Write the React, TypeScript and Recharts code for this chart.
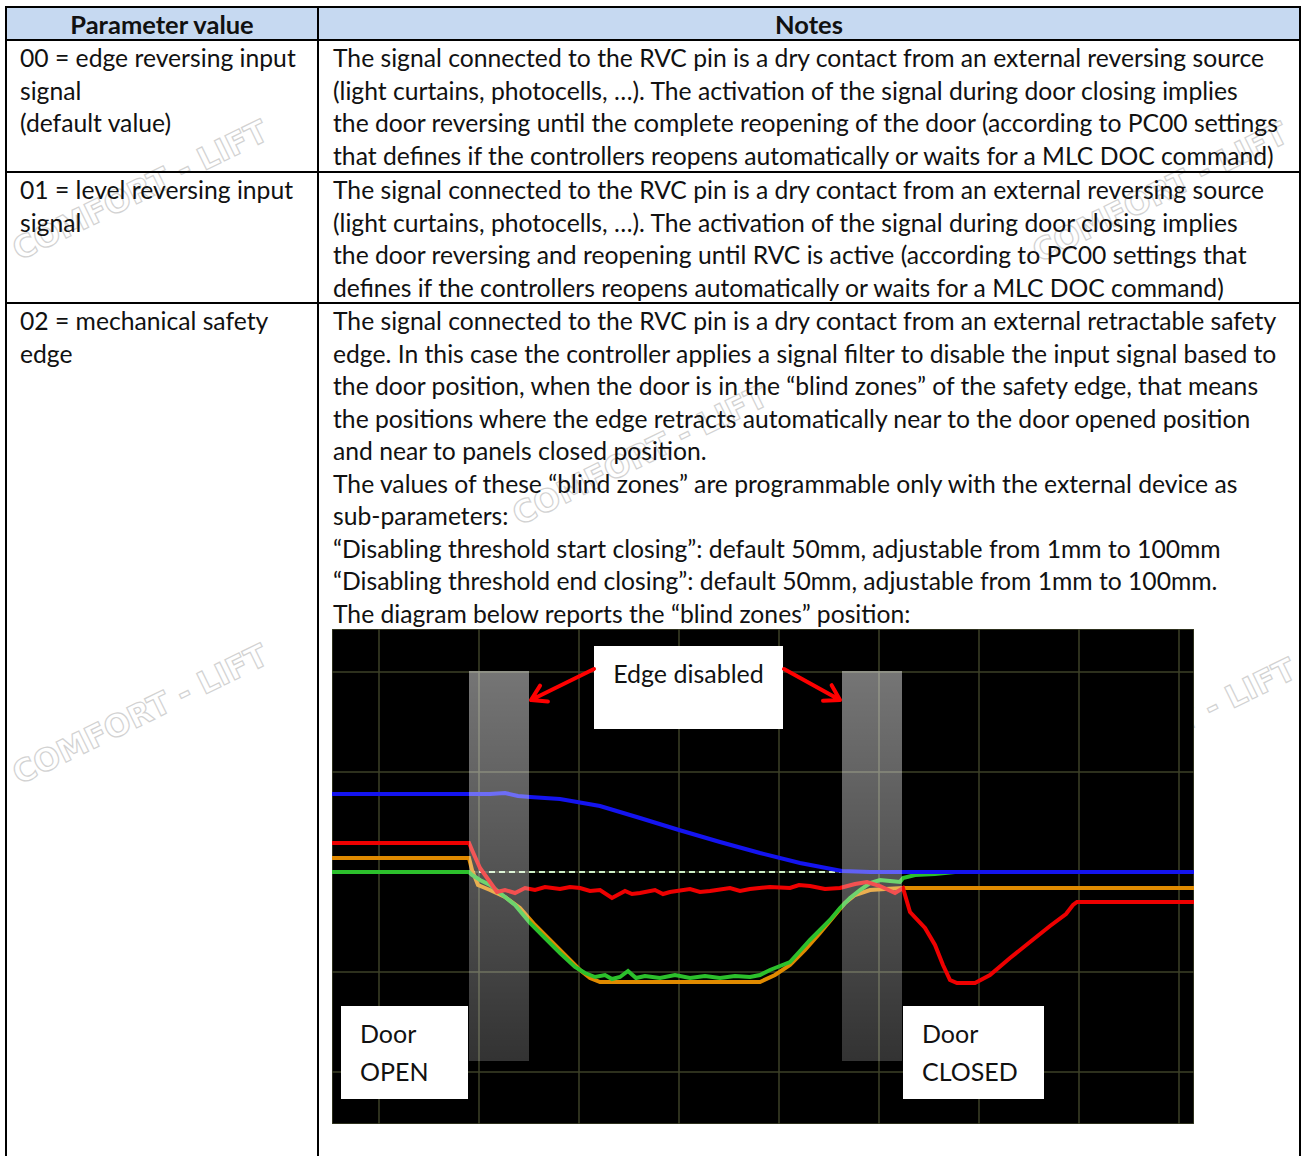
import React from 'react';
import { ComposedChart, Line, XAxis, YAxis, CartesianGrid, ReferenceArea, ReferenceLine } from 'recharts';

// time axis in grid divisions, signal axis in grid divisions (0 = reference level)
const gridX = [0, 1, 2, 3, 4, 5, 6, 7, 8];
const gridY = [-2, -1, 0, 1, 2];

const positionTrace = [
  { x: -0.47, y: 0.78 }, { x: 0.9, y: 0.78 }, { x: 1.11, y: 0.78 }, { x: 1.26, y: 0.79 },
  { x: 1.39, y: 0.76 }, { x: 1.51, y: 0.75 }, { x: 1.81, y: 0.73 }, { x: 2.21, y: 0.66 },
  { x: 2.61, y: 0.54 }, { x: 3.0, y: 0.42 }, { x: 3.41, y: 0.3 }, { x: 3.81, y: 0.19 },
  { x: 4.21, y: 0.09 }, { x: 4.63, y: 0.01 }, { x: 4.91, y: 0.0 }, { x: 8.15, y: 0.0 },
];

const currentTrace = [
  { x: -0.47, y: 0.29 }, { x: 0.9, y: 0.29 }, { x: 0.93, y: 0.22 }, { x: 1.01, y: 0.04 },
  { x: 1.11, y: -0.1 }, { x: 1.18, y: -0.2 }, { x: 1.26, y: -0.18 }, { x: 1.36, y: -0.21 },
  { x: 1.46, y: -0.16 }, { x: 1.56, y: -0.18 }, { x: 1.66, y: -0.15 }, { x: 1.81, y: -0.17 },
  { x: 1.91, y: -0.15 }, { x: 2.01, y: -0.16 }, { x: 2.11, y: -0.19 }, { x: 2.21, y: -0.18 },
  { x: 2.33, y: -0.26 }, { x: 2.46, y: -0.19 }, { x: 2.53, y: -0.22 }, { x: 2.61, y: -0.21 },
  { x: 2.76, y: -0.18 }, { x: 2.84, y: -0.22 }, { x: 2.91, y: -0.2 }, { x: 3.11, y: -0.17 },
  { x: 3.21, y: -0.2 }, { x: 3.31, y: -0.19 }, { x: 3.51, y: -0.16 }, { x: 3.61, y: -0.19 },
  { x: 3.71, y: -0.17 }, { x: 3.91, y: -0.15 }, { x: 4.11, y: -0.16 }, { x: 4.2, y: -0.13 },
  { x: 4.31, y: -0.14 }, { x: 4.46, y: -0.17 }, { x: 4.61, y: -0.16 }, { x: 4.76, y: -0.12 },
  { x: 4.88, y: -0.1 }, { x: 5.01, y: -0.14 }, { x: 5.16, y: -0.21 }, { x: 5.24, y: -0.16 },
  { x: 5.31, y: -0.4 }, { x: 5.46, y: -0.56 }, { x: 5.56, y: -0.73 }, { x: 5.64, y: -0.93 },
  { x: 5.71, y: -1.08 }, { x: 5.78, y: -1.11 }, { x: 5.96, y: -1.11 }, { x: 6.11, y: -1.03 },
  { x: 6.31, y: -0.86 }, { x: 6.51, y: -0.7 }, { x: 6.71, y: -0.54 }, { x: 6.87, y: -0.42 },
  { x: 6.94, y: -0.33 }, { x: 6.98, y: -0.3 }, { x: 8.15, y: -0.3 },
];

const speedRefTrace = [
  { x: -0.47, y: 0.14 }, { x: 0.9, y: 0.14 }, { x: 0.93, y: 0.02 }, { x: 0.99, y: -0.13 },
  { x: 1.11, y: -0.18 }, { x: 1.26, y: -0.25 }, { x: 1.41, y: -0.36 }, { x: 1.56, y: -0.53 },
  { x: 1.71, y: -0.68 }, { x: 1.86, y: -0.83 }, { x: 2.01, y: -0.98 }, { x: 2.11, y: -1.06 },
  { x: 2.21, y: -1.1 }, { x: 3.81, y: -1.1 }, { x: 3.96, y: -1.03 }, { x: 4.11, y: -0.93 },
  { x: 4.26, y: -0.78 }, { x: 4.41, y: -0.61 }, { x: 4.56, y: -0.43 }, { x: 4.66, y: -0.31 },
  { x: 4.76, y: -0.23 }, { x: 4.91, y: -0.18 }, { x: 5.06, y: -0.17 }, { x: 5.24, y: -0.16 },
  { x: 8.15, y: -0.16 },
];

const speedTrace = [
  { x: -0.47, y: 0.0 }, { x: 0.9, y: 0.0 }, { x: 0.93, y: -0.03 }, { x: 1.01, y: -0.08 },
  { x: 1.11, y: -0.13 }, { x: 1.21, y: -0.21 }, { x: 1.36, y: -0.33 }, { x: 1.51, y: -0.51 },
  { x: 1.66, y: -0.66 }, { x: 1.81, y: -0.81 }, { x: 1.96, y: -0.95 }, { x: 2.06, y: -1.01 },
  { x: 2.16, y: -1.05 }, { x: 2.26, y: -1.03 }, { x: 2.33, y: -1.07 }, { x: 2.41, y: -1.05 },
  { x: 2.49, y: -0.99 }, { x: 2.57, y: -1.06 }, { x: 2.66, y: -1.04 }, { x: 2.81, y: -1.06 },
  { x: 2.96, y: -1.03 }, { x: 3.11, y: -1.06 }, { x: 3.26, y: -1.04 }, { x: 3.41, y: -1.06 },
  { x: 3.56, y: -1.04 }, { x: 3.71, y: -1.05 }, { x: 3.81, y: -1.03 }, { x: 3.91, y: -0.98 },
  { x: 4.01, y: -0.94 }, { x: 4.11, y: -0.9 }, { x: 4.21, y: -0.79 }, { x: 4.31, y: -0.68 },
  { x: 4.41, y: -0.58 }, { x: 4.51, y: -0.48 }, { x: 4.61, y: -0.36 }, { x: 4.71, y: -0.26 },
  { x: 4.81, y: -0.18 }, { x: 4.91, y: -0.11 }, { x: 5.01, y: -0.08 }, { x: 5.11, y: -0.09 },
  { x: 5.21, y: -0.1 }, { x: 5.24, y: -0.06 }, { x: 5.36, y: -0.03 }, { x: 5.56, y: -0.02 },
  { x: 5.76, y: 0.0 }, { x: 8.15, y: 0.0 },
];

const thresholdTrace = [{ x: 0.9, y: 0 }, { x: 4.63, y: 0 }];

const blindZones = [
  { x1: 0.9, x2: 1.5, y1: -1.89, y2: 2.01 },
  { x1: 4.63, x2: 5.23, y1: -1.89, y2: 2.01 },
];

const notes = [
  { lines: ['Edge disabled'], x1: 2.15, x2: 4.04, y1: 1.43, y2: 2.26, center: true },
  { lines: ['Door', 'OPEN'], x1: -0.38, x2: 0.89, y1: -2.27, y2: -1.34, center: false },
  { lines: ['Door', 'CLOSED'], x1: 5.24, x2: 6.65, y1: -2.27, y2: -1.34, center: false },
];

const arrows = [
  [{ x: 2.15, y: 2.03 }, { x: 1.52, y: 1.72 }],
  [{ x: 4.05, y: 2.03 }, { x: 4.61, y: 1.72 }],
];

const headers = ['Parameter value', 'Notes'];

const rows = [
  {
    param: ['00 = edge reversing input', 'signal', '(default value)'],
    notes: [
      'The signal connected to the RVC pin is a dry contact from an external reversing source',
      '(light curtains, photocells, …). The activation of the signal during door closing implies',
      'the door reversing until the complete reopening of the door (according to PC00 settings',
      'that defines if the controllers reopens automatically or waits for a MLC DOC command)',
    ],
  },
  {
    param: ['01 = level reversing input', 'signal'],
    notes: [
      'The signal connected to the RVC pin is a dry contact from an external reversing source',
      '(light curtains, photocells, …). The activation of the signal during door closing implies',
      'the door reversing and reopening until RVC is active (according to PC00 settings that',
      'defines if the controllers reopens automatically or waits for a MLC DOC command)',
    ],
  },
  {
    param: ['02 = mechanical safety', 'edge'],
    notes: [
      'The signal connected to the RVC pin is a dry contact from an external retractable safety',
      'edge. In this case the controller applies a signal filter to disable the input signal based to',
      'the door position, when the door is in the “blind zones” of the safety edge, that means',
      'the positions where the edge retracts automatically near to the door opened position',
      'and near to panels closed position.',
      'The values of these “blind zones” are programmable only with the external device as',
      'sub-parameters:',
      '“Disabling threshold start closing”: default 50mm, adjustable from 1mm to 100mm',
      '“Disabling threshold end closing”: default 50mm, adjustable from 1mm to 100mm.',
      'The diagram below reports the “blind zones” position:',
    ],
  },
];

const FONT = 'Lato, "Open Sans", sans-serif';
const LINE_H = 32.5;
const rowTops = [41, 173, 304];

const noteShape = (lines: string[], center: boolean) => (p: any) => (
  <g>
    <rect x={p.x} y={p.y} width={p.width} height={p.height} fill="#ffffff" />
    {lines.map((t, i) => (
      <text
        key={t}
        x={center ? p.x + p.width / 2 : p.x + 19}
        y={p.y + 27 + i * 38}
        textAnchor={center ? 'middle' : 'start'}
        dominantBaseline="central"
        fontFamily={FONT}
        fontSize={25}
        fill="#111"
      >
        {t}
      </text>
    ))}
  </g>
);

const arrowShape = (p: any) => {
  const { x1, y1, x2, y2 } = p;
  const a = Math.atan2(y2 - y1, x2 - x1);
  const len = 17;
  const spread = 0.55;
  const hx1 = x2 - len * Math.cos(a - spread);
  const hy1 = y2 - len * Math.sin(a - spread);
  const hx2 = x2 - len * Math.cos(a + spread);
  const hy2 = y2 - len * Math.sin(a + spread);
  return (
    <path
      d={`M${x1},${y1}L${x2},${y2}M${hx1},${hy1}L${x2},${y2}L${hx2},${hy2}`}
      stroke="#ff0000"
      strokeWidth={4}
      fill="none"
      strokeLinecap="round"
      strokeLinejoin="round"
    />
  );
};

function Watermark({ cx, cy }: { cx: number; cy: number }) {
  return (
    <div
      style={{
        position: 'absolute',
        left: cx - 170,
        top: cy - 20,
        width: 340,
        textAlign: 'center',
        transform: 'rotate(-26deg)',
        fontFamily: '"DejaVu Sans", sans-serif',
        fontWeight: 'bold',
        fontSize: 31,
        lineHeight: '40px',
        color: '#ffffff',
        WebkitTextStroke: '1.2px #d2d2d2',
        whiteSpace: 'nowrap',
      }}
    >
      COMFORT - LIFT
    </div>
  );
}

function Cell({ lines, left, top }: { lines: string[]; left: number; top: number }) {
  return (
    <div style={{ position: 'absolute', left, top }}>
      {lines.map((t) => (
        <div key={t} style={{ height: LINE_H, lineHeight: `${LINE_H}px`, whiteSpace: 'nowrap' }}>
          {t}
        </div>
      ))}
    </div>
  );
}

function BlindZoneChart() {
  return (
    <div style={{ position: 'absolute', left: 332, top: 629, width: 862, height: 495, background: '#000' }}>
      <ComposedChart width={862} height={495} margin={{ top: 0, right: 0, bottom: 0, left: 0 }}>
        <defs>
          <linearGradient id="zoneFill" x1="0" y1="0" x2="0" y2="1">
            <stop offset="0%" stopColor="#ffffff" stopOpacity={0.46} />
            <stop offset="100%" stopColor="#ffffff" stopOpacity={0.2} />
          </linearGradient>
        </defs>
        <XAxis type="number" dataKey="x" domain={[-0.47, 8.15]} ticks={gridX} hide allowDataOverflow />
        <YAxis type="number" dataKey="y" domain={[-2.52, 2.43]} ticks={gridY} hide allowDataOverflow />
        <CartesianGrid stroke="#3c4027" strokeWidth={1.5} />
        <Line data={thresholdTrace} dataKey="y" stroke="#cdeec4" strokeWidth={2} strokeDasharray="6 4" dot={false} isAnimationActive={false} />
        <Line data={speedRefTrace} dataKey="y" stroke="#e08a00" strokeWidth={4} dot={false} isAnimationActive={false} />
        <Line data={speedTrace} dataKey="y" stroke="#2cc02c" strokeWidth={4} dot={false} isAnimationActive={false} />
        <Line data={positionTrace} dataKey="y" stroke="#1414f0" strokeWidth={4} dot={false} isAnimationActive={false} />
        <Line data={currentTrace} dataKey="y" stroke="#ee0000" strokeWidth={4} dot={false} isAnimationActive={false} />
        {blindZones.map((z) => (
          <ReferenceArea
            key={z.x1}
            {...z}
            fill="url(#zoneFill)"
            fillOpacity={1}
            stroke="none"
            zIndex={900}
            ifOverflow="visible"
          />
        ))}
        {notes.map((n) => (
          <ReferenceArea
            key={n.lines.join()}
            x1={n.x1}
            x2={n.x2}
            y1={n.y1}
            y2={n.y2}
            zIndex={950}
            ifOverflow="visible"
            shape={noteShape(n.lines, n.center)}
          />
        ))}
        {arrows.map((seg, i) => (
          <ReferenceLine key={i} segment={seg} zIndex={960} ifOverflow="visible" shape={arrowShape} />
        ))}
      </ComposedChart>
    </div>
  );
}

export default function App() {
  const border = '#000';
  return (
    <div
      style={{
        position: 'absolute',
        left: 0,
        top: 0,
        width: 1301,
        height: 1156,
        background: '#fff',
        overflow: 'hidden',
        fontFamily: FONT,
        fontSize: 24.7,
        color: '#111',
      }}
    >
      <Watermark cx={140} cy={190} />
      <Watermark cx={1160} cy={192} />
      <Watermark cx={640} cy={455} />
      <Watermark cx={140} cy={714} />
      <Watermark cx={1168} cy={728} />

      {/* header band */}
      <div style={{ position: 'absolute', left: 6, top: 7, width: 1294, height: 33, background: '#c6d9f1' }} />
      <div style={{ position: 'absolute', left: 6, top: 7, width: 312, height: 33, lineHeight: '34px', textAlign: 'center', fontWeight: 'bold', fontSize: 25.5 }}>
        {headers[0]}
      </div>
      <div style={{ position: 'absolute', left: 318, top: 7, width: 982, height: 33, lineHeight: '34px', textAlign: 'center', fontWeight: 'bold', fontSize: 25.5 }}>
        {headers[1]}
      </div>

      {rows.map((r, i) => (
        <React.Fragment key={i}>
          <Cell lines={r.param} left={20} top={rowTops[i] + 1} />
          <Cell lines={r.notes} left={333} top={rowTops[i] + 1} />
        </React.Fragment>
      ))}

      {/* table rules */}
      <div style={{ position: 'absolute', left: 5, top: 6, width: 1296, height: 2, background: border }} />
      <div style={{ position: 'absolute', left: 5, top: 39, width: 1296, height: 2, background: border }} />
      <div style={{ position: 'absolute', left: 5, top: 171, width: 1296, height: 2, background: border }} />
      <div style={{ position: 'absolute', left: 5, top: 302, width: 1296, height: 2, background: border }} />
      <div style={{ position: 'absolute', left: 5, top: 6, width: 2, height: 1150, background: border }} />
      <div style={{ position: 'absolute', left: 317, top: 6, width: 2, height: 1150, background: border }} />
      <div style={{ position: 'absolute', left: 1299, top: 6, width: 2, height: 1150, background: border }} />

      <BlindZoneChart />
    </div>
  );
}
